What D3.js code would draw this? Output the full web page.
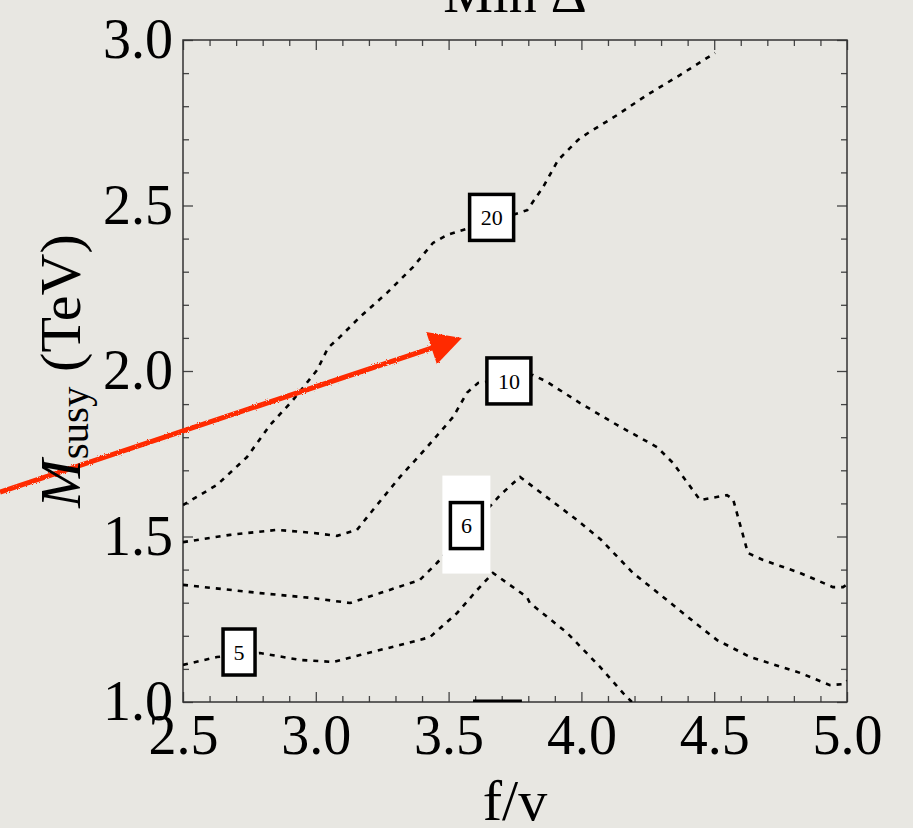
<!DOCTYPE html>
<html>
<head>
<meta charset="utf-8">
<script src="https://cdn.jsdelivr.net/npm/d3@7"></script>
<style>
  body { margin: 0; background: #e8e7e2; }
  svg { display: block; }
  text { font-family: "Liberation Serif", "DejaVu Serif", serif; fill: #000; }
</style>
</head>
<body>
<svg id="plot"></svg>
<script>
// contour lines: f/v and M_susy (TeV)
let fv20    = [2.50, 2.628, 2.741, 2.828, 2.914, 3.005, 3.046, 3.091, 3.166, 3.268, 3.366, 3.441, 3.494, 3.554, 3.762, 3.796, 3.856, 3.912, 3.987, 4.025, 4.134, 4.247, 4.371, 4.503];
let msusy20 = [1.595, 1.656, 1.740, 1.837, 1.912, 2.003, 2.070, 2.103, 2.163, 2.236, 2.314, 2.387, 2.411, 2.426, 2.477, 2.486, 2.556, 2.637, 2.698, 2.719, 2.773, 2.834, 2.894, 2.961];

let fv10    = [2.50, 2.677, 2.854, 2.989, 3.080, 3.155, 3.215, 3.317, 3.419, 3.517, 3.569, 3.611, 3.818, 3.871, 3.995, 4.134, 4.285, 4.345, 4.447, 4.548, 4.571, 4.627, 4.684, 4.823, 4.947, 4.985, 5.0];
let msusy10 = [1.483, 1.505, 1.520, 1.511, 1.502, 1.520, 1.580, 1.680, 1.770, 1.861, 1.934, 1.964, 1.988, 1.967, 1.903, 1.837, 1.770, 1.722, 1.610, 1.625, 1.613, 1.450, 1.429, 1.390, 1.347, 1.347, 1.355];

let fv6     = [2.50, 2.790, 2.989, 3.129, 3.242, 3.392, 3.456, 3.667, 3.694, 3.769, 3.983, 4.074, 4.194, 4.322, 4.447, 4.511, 4.635, 4.823, 4.936, 4.985, 5.0];
let msusy6  = [1.354, 1.329, 1.314, 1.299, 1.329, 1.369, 1.420, 1.601, 1.625, 1.680, 1.550, 1.490, 1.390, 1.308, 1.227, 1.187, 1.136, 1.088, 1.051, 1.054, 1.064];

let fv5     = [2.50, 2.628, 2.790, 2.941, 3.065, 3.166, 3.317, 3.430, 3.532, 3.607, 3.667, 3.795, 3.806, 3.946, 4.070, 4.157, 4.190];
let msusy5  = [1.112, 1.136, 1.148, 1.127, 1.121, 1.142, 1.172, 1.196, 1.269, 1.338, 1.390, 1.317, 1.299, 1.209, 1.106, 1.027, 1.0];

// contour labels: value and where the box sits (f/v, M_susy)
let labelText = ["20", "10", "6", "5"];
let labelFv   = [3.662, 3.727, 3.567, 2.711];
let labelM    = [2.464, 1.970, 1.533, 1.151];

let xTicks = [2.5, 3.0, 3.5, 4.0, 4.5, 5.0];
let yTicks = [1.0, 1.5, 2.0, 2.5, 3.0];

// hand-drawn red arrow (f/v, M_susy of tail and head)
let arrowFv = [1.811, 3.550];
let arrowM  = [1.634, 2.100];

const width = 913;
const height = 828;
let margin = { top: 40, right: 66, bottom: 126, left: 183 };
let plotWidth = width - margin.left - margin.right;
let plotHeight = height - margin.top - margin.bottom;

let svg = d3.select("svg#plot").attr("width", width).attr("height", height);

let x = d3.scaleLinear().domain([2.5, 5.0]).range([0, plotWidth]);
let y = d3.scaleLinear().domain([1.0, 3.0]).range([plotHeight, 0]);

let plot = svg.append("g").attr("transform", "translate(" + margin.left + "," + margin.top + ")");

svg.append("defs").append("clipPath").attr("id", "clip")
  .append("rect").attr("width", plotWidth).attr("height", plotHeight);

let minorX = d3.range(25, 51).map(d => d / 10).filter(d => Math.round(d * 10) % 5 != 0);
let minorY = d3.range(10, 31).map(d => d / 10).filter(d => Math.round(d * 10) % 5 != 0);

function styleAxis(g) {
  g.select(".domain").remove();
  g.selectAll("line").attr("stroke", "#444").attr("stroke-width", 1.3);
  g.selectAll("text").style("font-size", "56px").style("font-family", "Liberation Serif, serif");
}

// bottom
plot.append("g").attr("transform", "translate(0," + plotHeight + ")")
  .call(d3.axisBottom(x).tickValues(xTicks).tickSize(-10).tickPadding(12).tickFormat(d3.format(".1f")))
  .call(styleAxis);
plot.append("g").attr("transform", "translate(0," + plotHeight + ")")
  .call(d3.axisBottom(x).tickValues(minorX).tickSize(-6).tickFormat(""))
  .call(styleAxis);
// top
plot.append("g")
  .call(d3.axisTop(x).tickValues(xTicks).tickSize(-10).tickFormat(""))
  .call(styleAxis);
plot.append("g")
  .call(d3.axisTop(x).tickValues(minorX).tickSize(-6).tickFormat(""))
  .call(styleAxis);
// left
plot.append("g")
  .call(d3.axisLeft(y).tickValues(yTicks).tickSize(-10).tickPadding(10).tickFormat(d3.format(".1f")))
  .call(styleAxis);
plot.append("g")
  .call(d3.axisLeft(y).tickValues(minorY).tickSize(-6).tickFormat(""))
  .call(styleAxis);
// right
plot.append("g").attr("transform", "translate(" + plotWidth + ",0)")
  .call(d3.axisRight(y).tickValues(yTicks).tickSize(-10).tickFormat(""))
  .call(styleAxis);
plot.append("g").attr("transform", "translate(" + plotWidth + ",0)")
  .call(d3.axisRight(y).tickValues(minorY).tickSize(-6).tickFormat(""))
  .call(styleAxis);

plot.append("rect")
  .attr("width", plotWidth).attr("height", plotHeight)
  .attr("fill", "none").attr("stroke", "#333").attr("stroke-width", 1.5);

// contours
let contours = [
  { fv: fv20, m: msusy20 },
  { fv: fv10, m: msusy10 },
  { fv: fv6, m: msusy6 },
  { fv: fv5, m: msusy5 }
];

let line = d3.line().x(d => x(d[0])).y(d => y(d[1]));

let lines = plot.append("g").attr("clip-path", "url(#clip)");
lines.selectAll("path")
  .data(contours)
  .enter().append("path")
  .attr("d", c => line(c.fv.map((v, i) => [v, c.m[i]])))
  .attr("fill", "none")
  .attr("stroke", "#000")
  .attr("stroke-width", 2.6)
  .attr("stroke-dasharray", "5,6");

// thick stub at the bottom edge (edge of a clipped label box)
lines.append("line")
  .attr("x1", x(3.592)).attr("x2", x(3.776))
  .attr("y1", y(1.0)).attr("y2", y(1.0))
  .attr("stroke", "#000").attr("stroke-width", 5);

// white backdrop behind the "6" label
plot.append("rect")
  .attr("x", x(labelFv[2]) - 24).attr("y", y(labelM[2]) - 50)
  .attr("width", 48).attr("height", 98)
  .attr("fill", "#fff");

let labels = plot.selectAll("g.lab")
  .data(labelText)
  .enter().append("g")
  .attr("class", "lab")
  .attr("transform", (d, i) => "translate(" + x(labelFv[i]) + "," + y(labelM[i]) + ")");

labels.append("rect")
  .attr("x", d => d.length > 1 ? -22 : -16)
  .attr("y", -23)
  .attr("width", d => d.length > 1 ? 44 : 32)
  .attr("height", 46)
  .attr("fill", "#fff")
  .attr("stroke", "#000")
  .attr("stroke-width", 3.5);

labels.append("text")
  .attr("text-anchor", "middle")
  .attr("dy", "0.35em")
  .style("font-size", "22px")
  .text(d => d);

// red arrow
let defs = svg.select("defs");
let rough = defs.append("filter").attr("id", "rough");
rough.append("feTurbulence").attr("type", "fractalNoise").attr("baseFrequency", 0.9).attr("numOctaves", 1).attr("result", "n");
rough.append("feDisplacementMap").attr("in", "SourceGraphic").attr("in2", "n").attr("scale", 3);

let ax0 = x(arrowFv[0]), ay0 = y(arrowM[0]);
let ax1 = x(arrowFv[1]), ay1 = y(arrowM[1]);
let ang = Math.atan2(ay1 - ay0, ax1 - ax0);
let headLen = 32, headHalf = 17;
let bx = ax1 - headLen * Math.cos(ang), by = ay1 - headLen * Math.sin(ang);

let arrow = plot.append("g").attr("filter", "url(#rough)");
arrow.append("line")
  .attr("x1", ax0).attr("y1", ay0)
  .attr("x2", bx + 4 * Math.cos(ang)).attr("y2", by + 4 * Math.sin(ang))
  .attr("stroke", "#ff2a00").attr("stroke-width", 5);
arrow.append("path")
  .attr("d", "M" + ax1 + "," + ay1 +
    "L" + (bx - headHalf * Math.sin(ang)) + "," + (by + headHalf * Math.cos(ang)) +
    "L" + (bx + headHalf * Math.sin(ang)) + "," + (by - headHalf * Math.cos(ang)) + "Z")
  .attr("fill", "#ff2a00");

// titles
svg.append("text")
  .attr("x", margin.left + plotWidth / 2).attr("y", 12)
  .attr("text-anchor", "middle")
  .style("font-size", "56px")
  .text("Min Δ");

svg.append("text")
  .attr("x", margin.left + plotWidth / 2).attr("y", 820)
  .attr("text-anchor", "middle")
  .style("font-size", "58px")
  .text("f/v");

let yl = svg.append("text")
  .attr("transform", "translate(80," + (margin.top + plotHeight / 2) + ") rotate(-90)")
  .attr("text-anchor", "middle")
  .style("font-size", "58px");
yl.append("tspan").style("font-style", "italic").text("M");
yl.append("tspan").attr("dy", 8).style("font-size", "41px").text("susy");
yl.append("tspan").attr("dy", -8).text(" (TeV)");
</script>
</body>
</html>
